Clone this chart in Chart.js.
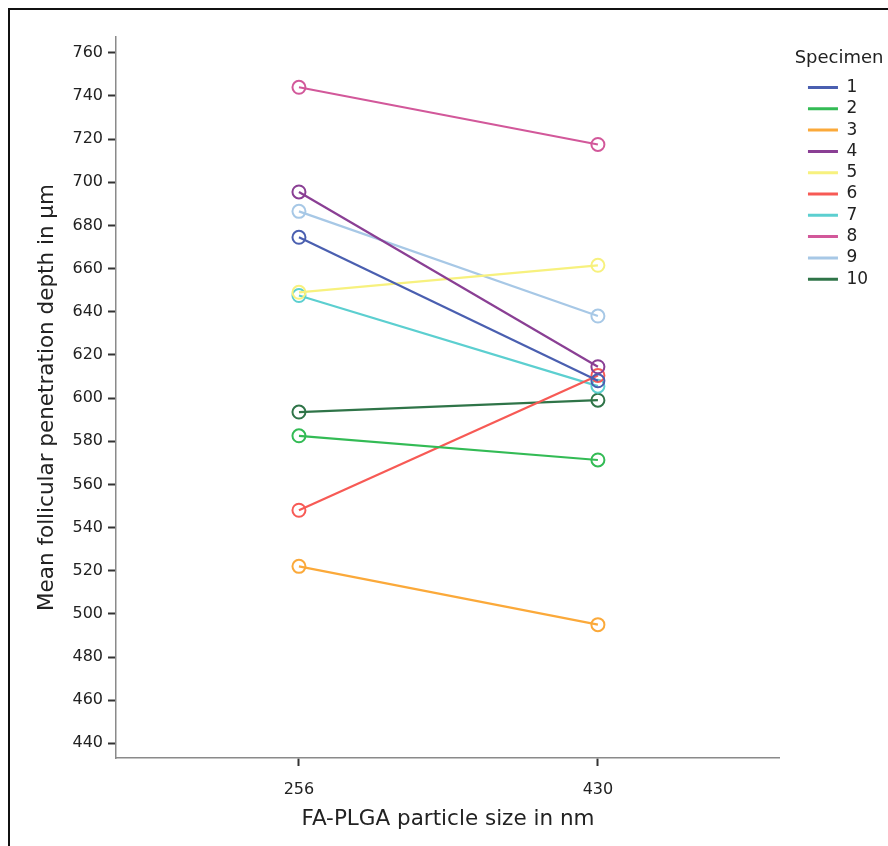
<!DOCTYPE html>
<html>
<head>
<meta charset="utf-8">
<script src="https://cdn.jsdelivr.net/npm/chart.js@4/dist/chart.umd.min.js"></script>
<style>
  body { margin: 0; background: #fff; }
  #wrap { position: relative; width: 888px; height: 846px; overflow: hidden; }
  #frame { position: absolute; left: 8px; top: 8px; width: 900px; height: 900px;
           border-top: 2px solid #111; border-left: 2px solid #111; pointer-events: none; }
</style>
</head>
<body>
<div id="wrap">
  <canvas id="out" width="888" height="846"></canvas>
  <div id="frame"></div>
</div>
<script>
const particleSizes = ["256", "430"];
const specimens = ["1", "2", "3", "4", "5", "6", "7", "8", "9", "10"];
const depthAt256 = [674.5, 582.5, 522, 695.5, 649, 548, 647.5, 744, 686.5, 593.5];
const depthAt430 = [608, 571.3, 495, 614.5, 661.5, 610.5, 605.5, 717.5, 638, 599];
const yTicks = [440, 460, 480, 500, 520, 540, 560, 580, 600, 620, 640, 660, 680, 700, 720, 740, 760];
const colors = ["#4a5fb0", "#33bb55", "#fba93a", "#8a3f94", "#f7f17e",
                "#f75a55", "#5ccfd0", "#d2589a", "#a7c8e6", "#2f7448"];

const textColor = "#222";
const font = "DejaVu Sans";

var datasets = [];
for (var i = 0; i < specimens.length; i++) {
  datasets.push({
    label: specimens[i],
    data: [{x: 0, y: depthAt256[i]}, {x: 1, y: depthAt430[i]}],
    borderColor: colors[i],
    backgroundColor: colors[i],
    borderWidth: 2.2,
    pointRadius: 6.5,
    pointHoverRadius: 6.5,
    pointBorderWidth: 2,
    pointBorderColor: colors[i],
    pointBackgroundColor: "rgba(0,0,0,0)",
    tension: 0
  });
}

const chart = new Chart(document.getElementById("out").getContext("2d"), {
  type: "line",
  data: { datasets: datasets },
  options: {
    responsive: false,
    animation: false,
    events: [],
    layout: { padding: { top: 37, right: 4.5, bottom: 0, left: 0 } },
    plugins: {
      tooltip: { enabled: false },
      legend: {
        position: "right",
        align: "start",
        title: {
          display: true,
          text: "Specimen",
          position: "end",
          color: textColor,
          font: { family: font, size: 18, lineHeight: "13px" },
          padding: { top: 12, bottom: 0 }
        },
        labels: {
          boxWidth: 30,
          boxHeight: 3,
          padding: 17,
          color: textColor,
          font: { family: font, size: 17, lineHeight: "4.3px" },
          generateLabels: function(c) {
            return c.data.datasets.map(function(ds, idx) {
              return {
                // array text: row height follows the font lineHeight
                text: [ds.label + " "],
                fillStyle: ds.borderColor,
                strokeStyle: ds.borderColor,
                lineWidth: 0,
                fontColor: textColor,
                hidden: false,
                datasetIndex: idx
              };
            });
          }
        }
      }
    },
    scales: {
      x: {
        type: "linear",
        min: -0.612,
        max: 1.609,
        afterBuildTicks: function(scale) {
          scale.ticks = particleSizes.map(function(s, idx) { return {value: idx}; });
        },
        afterFit: function(scale) { scale.height = 88; },
        ticks: {
          color: textColor,
          font: { family: font, size: 16 },
          padding: 14,
          maxRotation: 0,
          callback: function(v) { return particleSizes[v]; }
        },
        grid: { drawOnChartArea: false, drawTicks: true, tickLength: 8, tickWidth: 2, tickColor: "#333" },
        border: { color: "#8a8a8a", width: 1.5 },
        title: {
          display: true,
          text: "FA-PLGA particle size in nm",
          color: textColor,
          font: { family: font, size: 21.5 },
          padding: { top: 0, bottom: 14 }
        }
      },
      y: {
        min: 433.2,
        max: 767.3,
        afterBuildTicks: function(scale) {
          scale.ticks = yTicks.map(function(v) { return {value: v}; });
        },
        afterFit: function(scale) { scale.width = 116; },
        ticks: {
          color: textColor,
          font: { family: font, size: 16 },
          padding: 5
        },
        grid: { drawOnChartArea: false, drawTicks: true, tickLength: 8, tickWidth: 2, tickColor: "#333" },
        border: { color: "#8a8a8a", width: 1.5 },
        title: {
          display: true,
          text: "Mean follicular penetration depth in µm",
          color: textColor,
          font: { family: font, size: 21.5 },
          padding: { top: 35, bottom: 0 }
        }
      },
      spacer: {
        position: "right",
        display: true,
        afterFit: function(scale) { scale.width = 11; },
        ticks: { display: false },
        grid: { display: false },
        border: { display: false }
      }
    }
  }
});
</script>
</body>
</html>
